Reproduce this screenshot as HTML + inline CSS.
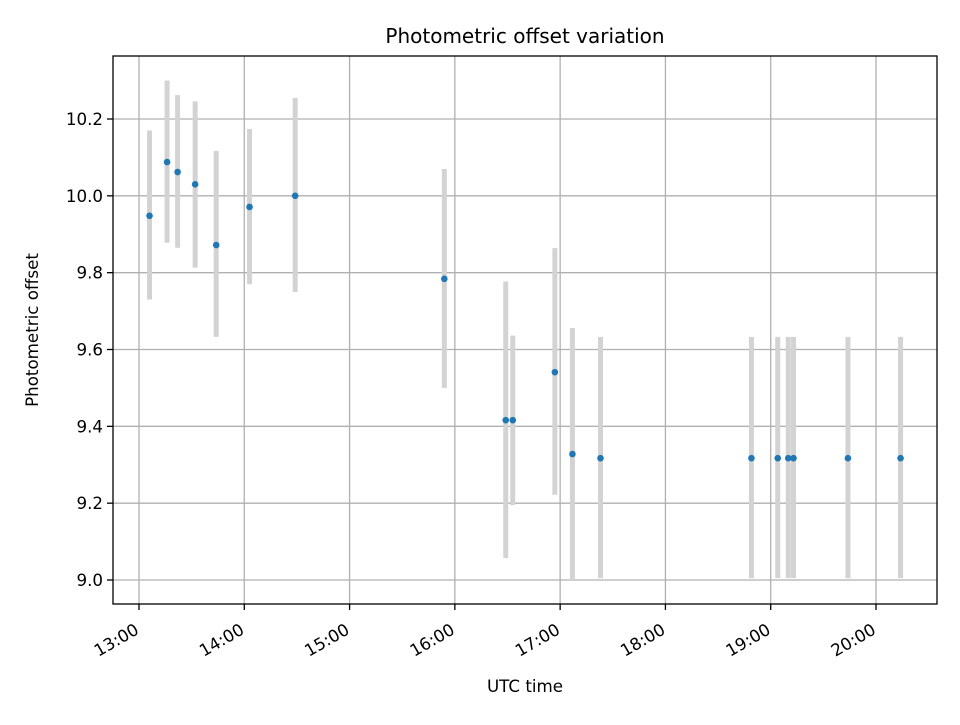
<!DOCTYPE html>
<html><head><meta charset="utf-8"><style>
body{margin:0;background:#fff}
svg text{font-family:"DejaVu Sans","Liberation Sans",sans-serif;fill:#000}
</style></head><body>
<svg id="chart" width="960" height="720" xmlns="http://www.w3.org/2000/svg">
<rect width="960" height="720" fill="#fff"/>
<g id="grid"></g>
<g id="errs"></g>
<g id="pts"></g>
<rect x="113" y="56" width="824" height="548" fill="none" stroke="#000" stroke-width="1.3"/>
<g id="ticks"></g>
<text x="525" y="43" font-size="20" text-anchor="middle">Photometric offset variation</text>
<text x="525" y="692" font-size="16.7" text-anchor="middle">UTC time</text>
<text transform="translate(38,330) rotate(-90)" font-size="16.7" text-anchor="middle">Photometric offset</text>
</svg>
<script>
// minutes after 13:00
const times=[6,16,22,32,44,63,89,174,209,213,237,247,263,349,364,370,373,404,434];
const values=[9.948,10.088,10.062,10.03,9.872,9.971,10.0,9.784,9.416,9.416,9.541,9.328,9.317,9.317,9.317,9.317,9.317,9.317,9.317];
const lows=[9.73,9.878,9.865,9.813,9.633,9.77,9.75,9.50,9.057,9.195,9.222,9.0,9.005,9.005,9.005,9.005,9.005,9.005,9.005];
const highs=[10.17,10.30,10.262,10.246,10.117,10.174,10.255,10.07,9.777,9.636,9.864,9.656,9.633,9.633,9.633,9.633,9.633,9.633,9.633];
const xTicks=[0,60,120,180,240,300,360,420];
const xTickLabels=["13:00","14:00","15:00","16:00","17:00","18:00","19:00","20:00"];
const yTicks=[9.0,9.2,9.4,9.6,9.8,10.0,10.2];
const yTickLabels=["9.0","9.2","9.4","9.6","9.8","10.0","10.2"];
const NS="http://www.w3.org/2000/svg";
const X=m=>139+m*(876-139)/420;
const Y=v=>580-(v-9.0)*(580-119)/1.2;
function mk(tag,attrs,parent){const e=document.createElementNS(NS,tag);for(const k in attrs)e.setAttribute(k,attrs[k]);document.getElementById(parent).appendChild(e);return e;}
xTicks.forEach((t,i)=>{
  const x=X(t);
  const g=mk('line',{x1:x,x2:x,y1:56,y2:604,stroke:'#b0b0b0','stroke-width':1.3},'grid');
  
  
  const tk=mk('line',{x1:x,x2:x,y1:604,y2:610,stroke:'#000','stroke-width':1.3},'ticks');
  
  
  const tx=mk('text',{transform:`translate(${x+1},${633}) rotate(-30)`,'font-size':16.7,'text-anchor':'end'},'ticks');
  
  
  tx.textContent=xTickLabels[i];
});
yTicks.forEach((v,i)=>{
  const y=Y(v);
  const g=mk('line',{x1:113,x2:937,y1:y,y2:y,stroke:'#b0b0b0','stroke-width':1.3},'grid');
  
  
  const tk=mk('line',{x1:107,x2:113,y1:y,y2:y,stroke:'#000','stroke-width':1.3},'ticks');
  
  
  const tx=mk('text',{x:103,y:y+6,'font-size':16.7,'text-anchor':'end'},'ticks');
  
  
  tx.textContent=yTickLabels[i];
});
times.forEach((t,i)=>{
  const x=X(t);
  const e=mk('line',{x1:x,x2:x,y1:Y(lows[i]),y2:Y(highs[i]),stroke:'#d3d3d3','stroke-width':5},'errs');
  
  
  const p=mk('circle',{cx:x,cy:Y(values[i]),r:3.3,fill:'#1f77b4'},'pts');
  
  
});
</script>
</body></html>
